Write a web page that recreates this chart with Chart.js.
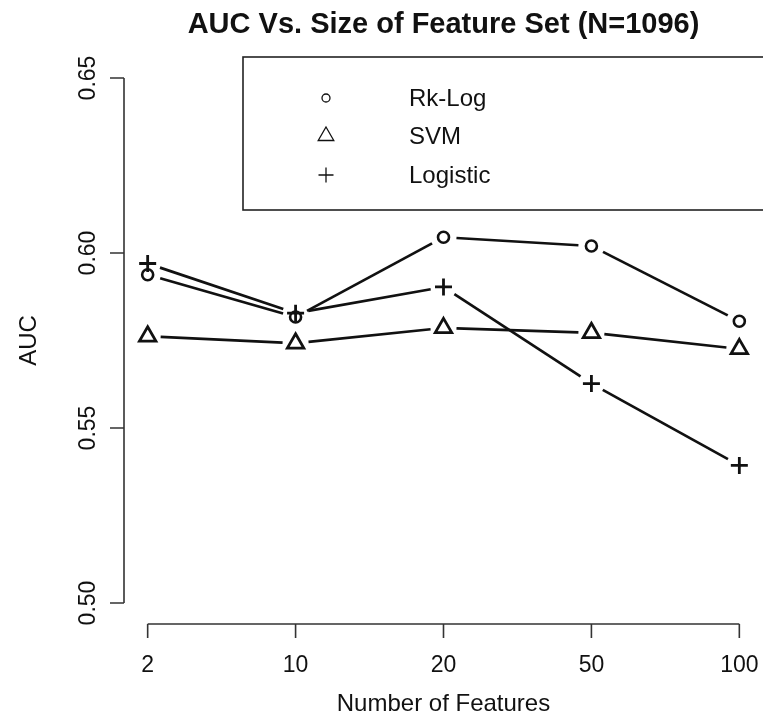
<!DOCTYPE html>
<html>
<head>
<meta charset="utf-8">
<script src="https://cdn.jsdelivr.net/npm/chart.js@4/dist/chart.umd.min.js"></script>
<style>
  html, body { margin: 0; padding: 0; background: #fff; }
  #wrap { width: 763px; height: 720px; }
</style>
</head>
<body>
<div id="wrap"><canvas id="c" width="763" height="720"></canvas></div>
<script>
// Feature-set sizes on the x axis
const featureCounts = ['2', '10', '20', '50', '100'];
// AUC per model
const rkLog    = [0.5938, 0.5817, 0.6045, 0.6020, 0.5805];
const svm      = [0.5762, 0.5742, 0.5786, 0.5772, 0.5726];
const logistic = [0.5970, 0.5828, 0.5903, 0.5627, 0.5393];
// Axis ticks
const yTicks = [0.50, 0.55, 0.60, 0.65];
const seriesNames = ['Rk-Log', 'SVM', 'Logistic'];

const FONT = "'Liberation Sans', Arial, Helvetica, sans-serif";
const INK = '#111';
const AXIS = '#333';

function pts(vals) { return vals.map((v, i) => ({ x: i, y: v })); }

const styles = [
  { pointStyle: 'circle',   radius: 5.5, lw: 2.6, legR: 4,   legLw: 1.3 },
  { pointStyle: 'triangle', radius: 9.5, lw: 2.8, legR: 9,   legLw: 1.3 },
  { pointStyle: 'cross',    radius: 8.5, lw: 2.8, legR: 7.5, legLw: 1.3 }
];
const seriesData = [rkLog, svm, logistic];

const datasets = seriesData.map((vals, k) => ({
  label: seriesNames[k],
  data: pts(vals),
  showLine: false,
  pointStyle: styles[k].pointStyle,
  pointRadius: styles[k].radius,
  pointHoverRadius: styles[k].radius,
  pointBorderWidth: styles[k].lw,
  pointBorderColor: INK,
  pointBackgroundColor: 'rgba(0,0,0,0)'
}));

// Connecting segments with a gap around each symbol (type "b" style)
const gappedLines = {
  id: 'gappedLines',
  beforeDatasetsDraw(chart) {
    const ctx = chart.ctx;
    const gap = 13;
    ctx.save();
    ctx.strokeStyle = INK;
    ctx.lineWidth = 2.7;
    ctx.lineCap = 'butt';
    chart.data.datasets.forEach((ds, di) => {
      const meta = chart.getDatasetMeta(di);
      for (let i = 0; i < meta.data.length - 1; i++) {
        const a = meta.data[i], b = meta.data[i + 1];
        const dx = b.x - a.x, dy = b.y - a.y;
        const len = Math.hypot(dx, dy);
        if (len <= 2 * gap) continue;
        const ux = dx / len, uy = dy / len;
        ctx.beginPath();
        ctx.moveTo(a.x + ux * gap, a.y + uy * gap);
        ctx.lineTo(b.x - ux * gap, b.y - uy * gap);
        ctx.stroke();
      }
    });
    ctx.restore();
  }
};

// Detached axes, tick labels, titles and the legend box
const frame = {
  id: 'frame',
  afterDraw(chart) {
    const ctx = chart.ctx;
    const xs = chart.scales.x, ys = chart.scales.y;
    const area = chart.chartArea;
    ctx.save();

    // y axis
    ctx.strokeStyle = AXIS;
    ctx.lineWidth = 1.6;
    const yTop = ys.getPixelForValue(yTicks[yTicks.length - 1]);
    const yBot = ys.getPixelForValue(yTicks[0]);
    ctx.beginPath();
    ctx.moveTo(area.left, yTop);
    ctx.lineTo(area.left, yBot);
    yTicks.forEach(t => {
      const py = ys.getPixelForValue(t);
      ctx.moveTo(area.left, py);
      ctx.lineTo(area.left - 14, py);
    });
    ctx.stroke();

    // x axis
    const xL = xs.getPixelForValue(0);
    const xR = xs.getPixelForValue(featureCounts.length - 1);
    ctx.beginPath();
    ctx.moveTo(xL, area.bottom);
    ctx.lineTo(xR, area.bottom);
    featureCounts.forEach((_, i) => {
      const px = xs.getPixelForValue(i);
      ctx.moveTo(px, area.bottom);
      ctx.lineTo(px, area.bottom + 14);
    });
    ctx.stroke();

    // tick labels
    ctx.fillStyle = INK;
    ctx.font = '23px ' + FONT;
    ctx.textAlign = 'center';
    ctx.textBaseline = 'alphabetic';
    featureCounts.forEach((lab, i) => {
      ctx.fillText(lab, xs.getPixelForValue(i), 672);
    });
    yTicks.forEach(t => {
      ctx.save();
      ctx.translate(95, ys.getPixelForValue(t));
      ctx.rotate(-Math.PI / 2);
      ctx.fillText(t.toFixed(2), 0, 0);
      ctx.restore();
    });

    // axis titles
    const midX = (area.left + area.right) / 2;
    const midY = (area.top + area.bottom) / 2;
    ctx.font = '24px ' + FONT;
    ctx.fillText('Number of Features', midX, 711);
    ctx.save();
    ctx.translate(36, midY);
    ctx.rotate(-Math.PI / 2);
    ctx.fillText('AUC', 0, 0);
    ctx.restore();

    // main title
    ctx.font = 'bold 29px ' + FONT;
    ctx.fillText('AUC Vs. Size of Feature Set (N=1096)', midX, 33);

    // legend
    ctx.strokeStyle = '#222';
    ctx.lineWidth = 1.6;
    ctx.strokeRect(243, 57, 560, 153);
    const rows = [98, 136, 175];
    ctx.font = '24px ' + FONT;
    ctx.textAlign = 'left';
    ctx.textBaseline = 'middle';
    seriesNames.forEach((name, k) => {
      ctx.strokeStyle = INK;
      ctx.fillStyle = 'rgba(0,0,0,0)';
      ctx.lineWidth = styles[k].legLw;
      Chart.helpers.drawPoint(ctx, {
        pointStyle: styles[k].pointStyle,
        radius: styles[k].legR,
        rotation: 0,
        borderWidth: styles[k].legLw
      }, 326, rows[k]);
      ctx.fillStyle = INK;
      ctx.fillText(name, 409, rows[k] + 1);
    });

    ctx.restore();
  }
};

new Chart(document.getElementById('c'), {
  type: 'scatter',
  data: { datasets },
  options: {
    responsive: false,
    animation: false,
    layout: { autoPadding: false, padding: { left: 124, right: 0, top: 57, bottom: 96 } },
    scales: {
      x: { type: 'linear', min: -0.16, max: featureCounts.length - 1 + 0.16, display: false },
      y: { type: 'linear', min: 0.494, max: 0.656, display: false }
    },
    plugins: {
      legend: { display: false },
      tooltip: { enabled: false },
      title: { display: false }
    }
  },
  plugins: [gappedLines, frame]
});
</script>
</body>
</html>
